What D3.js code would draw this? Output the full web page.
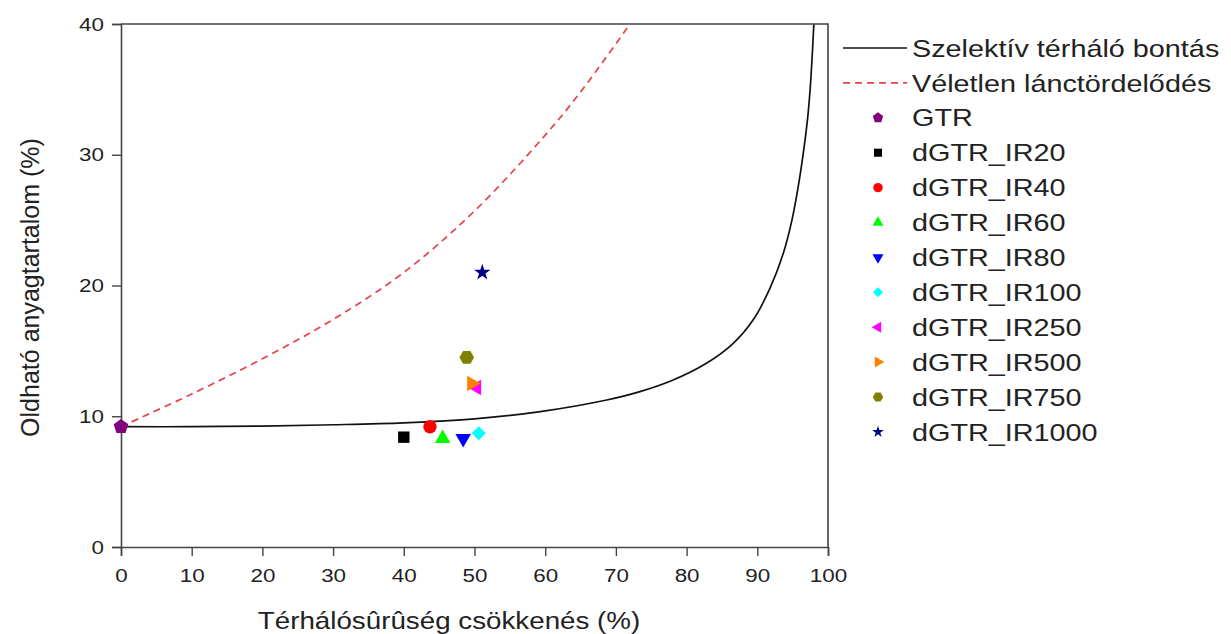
<!DOCTYPE html>
<html lang="hu">
<head>
  <meta charset="UTF-8">
  <title>Horikx diagram</title>
  <script src="https://d3js.org/d3.v7.min.js"></script>
  <style>
    body { margin: 0; background: #fff; }
    text { font-family: "Liberation Sans", Arial, sans-serif; fill: #222; }
  </style>
</head>
<body>
  <script>
    // Measured points (crosslink density decrease %, soluble fraction %)
    const seriesNames = ["GTR", "dGTR_IR20", "dGTR_IR40", "dGTR_IR60", "dGTR_IR80",
      "dGTR_IR100", "dGTR_IR250", "dGTR_IR500", "dGTR_IR750", "dGTR_IR1000"];
    const seriesX = [0, 40.0, 43.7, 45.5, 48.4, 50.6, 50.3, 49.6, 48.9, 51.1];
    const seriesY = [9.2, 8.4, 9.2, 8.3, 8.3, 8.7, 12.2, 12.5, 14.5, 21.0];

    // Theoretical curves
    const selectiveX = [0, 10, 20, 30, 40, 50, 59.3, 68.7, 73.4, 78.1, 82.8, 86.6, 89.4, 91.8, 93.7, 94.9, 95.8, 96.5, 97.1, 97.5, 98.0];
    const selectiveY = [9.2, 9.2, 9.25, 9.35, 9.5, 9.8, 10.35, 11.24, 11.88, 12.77, 14.05, 15.58, 17.36, 19.8, 22.5, 25.0, 27.6, 30.1, 32.7, 35.2, 40];
    const randomX = [0, 10, 20, 30, 40, 50, 60, 65, 72];
    const randomY = [9.2, 11.7, 14.4, 17.4, 21.0, 25.7, 31.5, 34.8, 40];

    const lineNames = ["Szelektív térháló bontás", "Véletlen lánctördelődés"];
    const xTicks = [0, 10, 20, 30, 40, 50, 60, 70, 80, 90, 100];
    const yTicks = [0, 10, 20, 30, 40];

    const width = 1231, height = 634;
    const margin = { left: 121, top: 24, right: 403, bottom: 87 };
    const plotW = width - margin.left - margin.right;
    const plotH = height - margin.top - margin.bottom;
    const stretch = 1.18; // the picture is a bit wider than tall

    const svg = d3.select("body").append("svg")
      .attr("width", width)
      .attr("height", height);

    const x = d3.scaleLinear().domain([0, 100]).range([0, plotW]);
    const y = d3.scaleLinear().domain([0, 40]).range([plotH, 0]);

    const g = svg.append("g")
      .attr("transform", `translate(${margin.left},${margin.top})`);

    // custom polygon symbols (Origin style)
    const polygon = (n, rot) => ({
      draw(ctx, size) {
        const r = Math.sqrt(size / (0.5 * n * Math.sin(2 * Math.PI / n)));
        for (let i = 0; i < n; i++) {
          const a = rot + i * 2 * Math.PI / n;
          const px = r * Math.sin(a), py = -r * Math.cos(a);
          if (i === 0) ctx.moveTo(px, py); else ctx.lineTo(px, py);
        }
        ctx.closePath();
      }
    });
    const symbols = [
      { type: polygon(5, 0), rot: 0, color: "#800080" },
      { type: d3.symbolSquare, rot: 0, color: "#000000" },
      { type: d3.symbolCircle, rot: 0, color: "#ff0000" },
      { type: d3.symbolTriangle, rot: 0, color: "#00ff00" },
      { type: d3.symbolTriangle, rot: 180, color: "#0000ff" },
      { type: d3.symbolSquare, rot: 45, color: "#00ffff" },
      { type: d3.symbolTriangle, rot: -90, color: "#ff00ff" },
      { type: d3.symbolTriangle, rot: 90, color: "#ff8000" },
      { type: polygon(6, Math.PI / 6), rot: 0, color: "#808000" },
      { type: d3.symbolStar, rot: 0, color: "#000080" }
    ];
    const symSize = [140, 130, 140, 105, 105, 100, 105, 105, 140, 85];

    // clip for the curves
    svg.append("clipPath").attr("id", "clip")
      .append("rect").attr("width", plotW).attr("height", plotH);

    const line = d3.line().curve(d3.curveCatmullRom.alpha(0.5))
      .x(d => x(d[0])).y(d => y(d[1]));

    g.append("path")
      .datum(d3.zip(randomX, randomY))
      .attr("clip-path", "url(#clip)")
      .attr("d", line)
      .attr("fill", "none")
      .attr("stroke", "#e5424a")
      .attr("stroke-width", 1.7)
      .attr("stroke-dasharray", "7,5");

    g.append("path")
      .datum(d3.zip(selectiveX, selectiveY))
      .attr("clip-path", "url(#clip)")
      .attr("d", line)
      .attr("fill", "none")
      .attr("stroke", "#111")
      .attr("stroke-width", 1.7);

    // frame top and right
    g.append("path")
      .attr("d", `M0,0H${plotW}V${plotH}`)
      .attr("fill", "none")
      .attr("stroke", "#444")
      .attr("stroke-width", 1.6);

    // axes with minor ticks
    const xAxis = g.append("g").attr("transform", `translate(0,${plotH})`);
    xAxis.call(d3.axisBottom(x).tickValues(d3.range(5, 100, 10)).tickSize(5).tickFormat(""));
    xAxis.call(d3.axisBottom(x).tickValues(xTicks).tickSize(9).tickPadding(13));
    const yAxis = g.append("g");
    yAxis.call(d3.axisLeft(y).tickValues(d3.range(5, 40, 10)).tickSize(5).tickFormat(""));
    yAxis.call(d3.axisLeft(y).tickValues(yTicks).tickSize(9).tickPadding(8));

    g.selectAll(".domain").attr("stroke", "#444").attr("stroke-width", 1.6);
    g.selectAll(".tick line").attr("stroke", "#444").attr("stroke-width", 1.4);
    g.selectAll(".tick text").style("font-size", "19px").attr("fill", "#222")
      .each(function () {
        const t = d3.select(this);
        const tx = +t.attr("x") || 0;
        t.attr("x", 0).attr("transform", `translate(${tx},0) scale(${stretch},1)`);
      });

    // axis titles
    svg.append("text")
      .attr("transform", `translate(449,629) scale(${stretch * 0.98},1)`)
      .attr("text-anchor", "middle")
      .style("font-size", "24px")
      .text("Térhálósûrûség csökkenés (%)");

    svg.append("text")
      .attr("transform", `translate(39,${margin.top + plotH / 2 + 2}) rotate(-90)`)
      .attr("text-anchor", "middle")
      .style("font-size", "25px")
      .text("Oldható anyagtartalom (%)");

    // data points
    g.selectAll(".pt")
      .data(seriesX.map((v, i) => ({ x: v, y: seriesY[i], i })))
      .enter().append("path")
      .attr("class", "pt")
      .attr("transform", d => `translate(${x(d.x)},${y(d.y)}) rotate(${symbols[d.i].rot})`)
      .attr("d", d => d3.symbol().type(symbols[d.i].type).size(symSize[d.i])())
      .attr("fill", d => symbols[d.i].color);

    // legend
    const lg = svg.append("g").attr("transform", "translate(843,48)");
    const rowH = 34.9;
    lg.append("line").attr("x1", 0).attr("x2", 64).attr("y1", 0).attr("y2", 0)
      .attr("stroke", "#111").attr("stroke-width", 1.7);
    lg.append("line").attr("x1", 0).attr("x2", 64).attr("y1", rowH).attr("y2", rowH)
      .attr("stroke", "#e5424a").attr("stroke-width", 1.7).attr("stroke-dasharray", "7,5");
    const legendText = (n, yy) => lg.append("text")
      .attr("transform", `translate(69,${yy}) scale(${stretch + 0.02},1)`)
      .attr("dy", "0.36em")
      .style("font-size", "24px").text(n);
    lineNames.forEach((n, i) => legendText(n, i * rowH));
    seriesNames.forEach((n, i) => {
      const yy = (i + 2) * rowH;
      lg.append("path")
        .attr("transform", `translate(35,${yy}) rotate(${symbols[i].rot})`)
        .attr("d", d3.symbol().type(symbols[i].type).size(symSize[i] * 0.5)())
        .attr("fill", symbols[i].color);
      legendText(n, yy);
    });
  </script>
</body>
</html>
